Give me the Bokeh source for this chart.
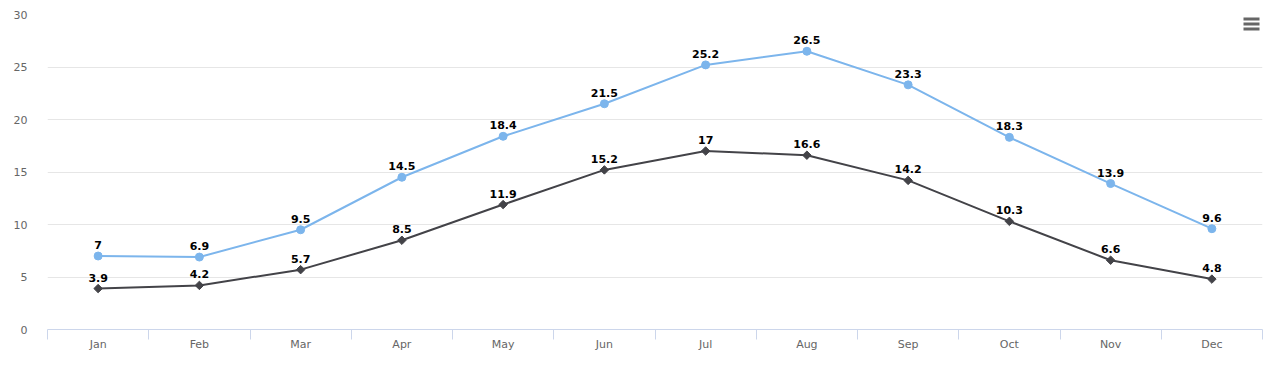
import math
from bokeh.plotting import figure
from bokeh.models import ColumnDataSource, FixedTicker, Range1d, BoxAnnotation
from bokeh.core.properties import value
from bokeh.embed import file_html
from bokeh.resources import INLINE

months = ["Jan", "Feb", "Mar", "Apr", "May", "Jun", "Jul", "Aug", "Sep", "Oct", "Nov", "Dec"]
tokyo = [7.0, 6.9, 9.5, 14.5, 18.4, 21.5, 25.2, 26.5, 23.3, 18.3, 13.9, 9.6]
london = [3.9, 4.2, 5.7, 8.5, 11.9, 15.2, 17.0, 16.6, 14.2, 10.3, 6.6, 4.8]
y_ticks = [0, 5, 10, 15, 20, 25, 30]

def fmt(v):
    return ("%g" % v)

xs = [i + 0.5 for i in range(len(months))]
src_t = ColumnDataSource(dict(x=xs, y=tokyo, lbl=[fmt(v) for v in tokyo]))
src_l = ColumnDataSource(dict(x=xs, y=london, lbl=[fmt(v) for v in london]))

p = figure(frame_width=1215, frame_height=315, output_backend="svg", toolbar_location=None,
           x_range=Range1d(0, len(months)), y_range=Range1d(0, 30),
           min_border_left=47, min_border_top=14, min_border_right=10, min_border_bottom=28)
p.outline_line_color = None
p.background_fill_color = "white"
p.border_fill_color = "white"

FONT = "DejaVu Sans"

# y axis
p.yaxis.ticker = FixedTicker(ticks=y_ticks)
p.yaxis.axis_line_color = None
p.yaxis.major_tick_line_color = None
p.yaxis.minor_tick_line_color = None
p.yaxis.major_label_text_color = "#666666"
p.yaxis.major_label_text_font = FONT
p.yaxis.major_label_text_font_size = "11px"
p.yaxis.major_label_standoff = 14
p.ygrid.grid_line_color = "#e6e6e6"
p.ygrid.ticker = FixedTicker(ticks=y_ticks)
p.xgrid.grid_line_color = None

# x axis: labels at category centres, tick marks at category boundaries
p.xaxis.ticker = FixedTicker(ticks=xs, minor_ticks=list(range(len(months) + 1)))
p.xaxis.major_label_overrides = {x: m for x, m in zip(xs, months)}
p.xaxis.axis_line_color = "#ccd6eb"
p.xaxis.major_tick_line_color = None
p.xaxis.major_tick_out = 0
p.xaxis.major_tick_in = 0
p.xaxis.minor_tick_line_color = "#ccd6eb"
p.xaxis.minor_tick_out = 10
p.xaxis.minor_tick_in = 0
p.xaxis.major_label_text_color = "#666666"
p.xaxis.major_label_text_font = FONT
p.xaxis.major_label_text_font_size = "11px"
p.xaxis.major_label_standoff = -2

# series
p.line("x", "y", source=src_t, line_color="#7cb5ec", line_width=2)
p.scatter("x", "y", source=src_t, marker="circle", size=8, fill_color="#7cb5ec", line_color="#7cb5ec")
p.line("x", "y", source=src_l, line_color="#434348", line_width=2)
p.scatter("x", "y", source=src_l, marker="square", angle=math.pi / 4, size=6,
          fill_color="#434348", line_color="#434348")

for src in (src_t, src_l):
    p.text("x", "y", text="lbl", source=src, text_align="center", text_baseline="bottom",
           y_offset=-7, text_font=value(FONT), text_font_size="11px", text_font_style="bold",
           text_color="#000000")

# context menu icon: three bars (screen units relative to the plot frame)
for top in (312, 307, 302):
    p.add_layout(BoxAnnotation(left=1196, right=1212, top=top, bottom=top - 3,
                               left_units="screen", right_units="screen",
                               top_units="screen", bottom_units="screen",
                               fill_color="#666666", fill_alpha=1.0, line_color=None))

open("out.html", "w").write(file_html(p, INLINE))
